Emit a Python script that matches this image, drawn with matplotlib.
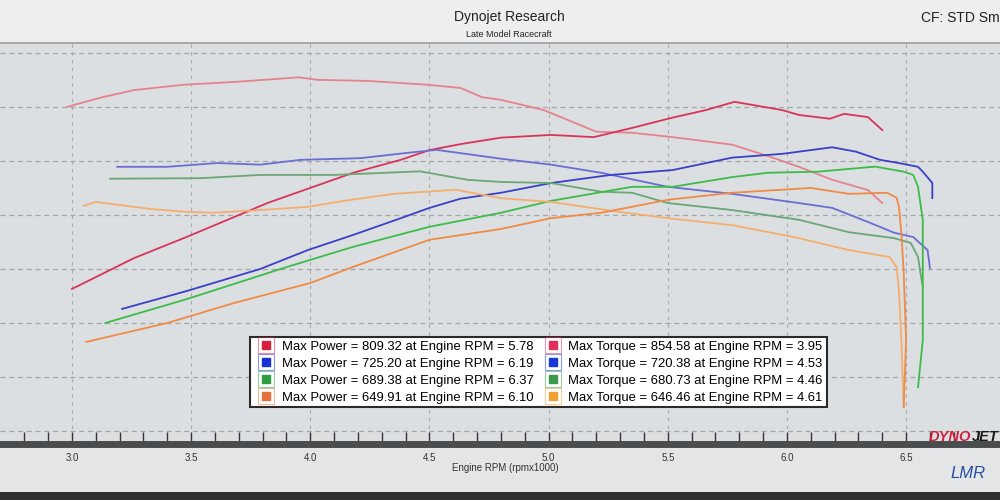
import matplotlib.pyplot as plt
from matplotlib.lines import Line2D
from matplotlib.patches import Rectangle
from matplotlib.legend_handler import HandlerTuple

plt.rcParams['font.family'] = ['Liberation Sans', 'DejaVu Sans']

# --- data (rpm x1000, power / torque) ---
red_hp_rpm = [3.00, 3.26, 3.48, 3.68, 3.82, 4.00, 4.18, 4.38, 4.50, 4.63, 4.80, 5.01,
              5.19, 5.35, 5.52, 5.66, 5.78, 5.98, 6.05, 6.18, 6.24, 6.34, 6.40]
red_hp = [463, 520, 559, 596, 622, 650, 678, 702, 720, 731, 743, 748,
          744, 761, 780, 794, 809.3, 794, 785, 778, 787, 781, 757]
red_tq_rpm = [2.98, 3.12, 3.26, 3.47, 3.68, 3.95, 4.03, 4.24, 4.49, 4.63, 4.72,
              4.80, 4.98, 5.20, 5.35, 5.52, 5.77, 5.92, 6.05, 6.19, 6.34, 6.40]
red_tq = [800, 817, 831, 841, 846, 854.6, 850, 848, 841, 835, 818,
          813, 794, 754, 752, 744, 730, 709, 689, 665, 646, 622]

blue_hp_rpm = [3.21, 3.48, 3.79, 3.99, 4.18, 4.38, 4.50, 4.63, 4.80, 5.01, 5.26,
               5.52, 5.77, 5.98, 6.19, 6.29, 6.39, 6.47, 6.55, 6.57, 6.61, 6.61]
blue_hp = [426, 459, 500, 535, 563, 594, 613, 630, 641, 659, 674,
           683, 706, 713, 725.2, 717, 702, 696, 689, 680, 659, 631]
blue_tq_rpm = [3.19, 3.40, 3.61, 3.79, 3.96, 4.21, 4.41, 4.53, 4.80, 5.01,
               5.22, 5.50, 5.77, 6.05, 6.19, 6.34, 6.45, 6.53, 6.59, 6.60]
blue_tq = [689, 689, 696, 693, 702, 705, 715, 720.4, 704, 693,
           678, 652, 639, 622, 613, 587, 567, 559, 535, 502]

green_hp_rpm = [3.14, 3.48, 3.89, 4.18, 4.50, 4.80, 5.01, 5.35, 5.52, 5.77,
                5.92, 6.13, 6.37, 6.49, 6.53, 6.55, 6.57, 6.57, 6.57, 6.55]
green_hp = [400, 444, 502, 541, 578, 604, 626, 652, 652, 670,
            678, 680, 689.4, 680, 674, 652, 591, 493, 368, 281]
green_tq_rpm = [3.16, 3.54, 3.79, 4.10, 4.46, 4.66, 4.80, 5.01, 5.22, 5.35,
                5.50, 5.77, 6.05, 6.26, 6.45, 6.52, 6.55, 6.56, 6.57]
green_tq = [667, 668, 674, 674, 680.7, 665, 661, 659, 643, 641,
            622, 609, 591, 568, 557, 548, 522, 493, 467]

orange_hp_rpm = [3.06, 3.40, 3.68, 4.00, 4.18, 4.50, 4.80, 5.01, 5.22, 5.35, 5.50,
                 5.77, 6.10, 6.26, 6.42, 6.46, 6.47, 6.48, 6.49, 6.50, 6.49]
orange_hp = [365, 400, 437, 474, 504, 554, 574, 594, 604, 615, 628,
             641, 649.9, 639, 641, 632, 615, 567, 493, 368, 244]
orange_tq_rpm = [3.05, 3.10, 3.33, 3.47, 3.59, 3.79, 3.99, 4.17, 4.35, 4.61, 4.80,
                 5.01, 5.29, 5.50, 5.77, 6.03, 6.26, 6.43, 6.46, 6.47, 6.48, 6.49]
orange_tq = [617, 624, 611, 606, 604, 609, 615, 628, 639, 646.5, 631,
             624, 606, 594, 581, 559, 535, 522, 504, 461, 368, 244]

max_power = [809.32, 725.20, 689.38, 649.91]
max_power_rpm = [5.78, 6.19, 6.37, 6.10]
max_torque = [854.58, 720.38, 680.73, 646.46]
max_torque_rpm = [3.95, 4.53, 4.46, 4.61]

x_ticks = [3.0, 3.5, 4.0, 4.5, 5.0, 5.5, 6.0, 6.5]
y_grid = [200, 300, 400, 500, 600, 700, 800, 900]

power_colors = ['#d8345a', '#3a40c6', '#3cbc48', '#f08a44']
torque_colors = ['#e5828e', '#6a6ed2', '#6aa676', '#f4ae6c']
swatch_power = ['#d81f3f', '#1a30d2', '#2f9e40', '#e8703a']
swatch_torque = ['#e03058', '#1838d8', '#3a9a4a', '#f0a030']

runs = [
    (red_hp_rpm, red_hp, red_tq_rpm, red_tq),
    (blue_hp_rpm, blue_hp, blue_tq_rpm, blue_tq),
    (green_hp_rpm, green_hp, green_tq_rpm, green_tq),
    (orange_hp_rpm, orange_hp, orange_tq_rpm, orange_tq),
]

fig = plt.figure(figsize=(10, 5), dpi=100)
fig.patch.set_facecolor('#e3e5e7')

# header strip
fig.add_artist(Rectangle((0, 1 - 43 / 500), 1, 43 / 500, transform=fig.transFigure,
                         facecolor='#eceef0', edgecolor='none', zorder=0))
fig.add_artist(Line2D([0, 1], [1 - 43 / 500] * 2, transform=fig.transFigure,
                      color='#9a9c9e', lw=1.2))
fig.text(0.509, 1 - 17 / 500, 'Dynojet Research', ha='center', va='center',
         fontsize=10, color='#222222')
fig.text(0.509, 1 - 34 / 500, 'Late Model Racecraft', ha='center', va='center',
         fontsize=6.5, color='#222222')
fig.text(0.921, 1 - 18 / 500, 'CF: STD Sm', ha='left', va='center',
         fontsize=10, color='#222222')

ax = fig.add_axes([0, 0.113, 1, 0.803])
ax.set_facecolor('#dcdfe2')
ax.set_xlim(2.698, 6.894)
ax.set_ylim(177, 920)

for x in x_ticks:
    ax.axvline(x, color='#a8aaac', lw=0.8, ls=(0, (3, 4)), zorder=1)
for y in y_grid:
    ax.axhline(y, color='#a4a6a8', lw=0.9, ls=(0, (4, 3)), zorder=1)

for i, (hp_x, hp_y, tq_x, tq_y) in enumerate(runs):
    ax.plot(tq_x, tq_y, color=torque_colors[i], lw=1.3, zorder=3)
    ax.plot(hp_x, hp_y, color=power_colors[i], lw=1.3, zorder=3)

for side in ['top', 'left', 'right']:
    ax.spines[side].set_visible(False)
ax.spines['bottom'].set_linewidth(5)
ax.spines['bottom'].set_color('#4a4c4e')

ax.set_xticks(x_ticks)
ax.set_xticklabels([f'{x:.1f}' for x in x_ticks])
ax.set_xticks([x / 10 for x in range(28, 69)], minor=True)
ax.set_yticks([])
ax.tick_params(axis='x', which='both', direction='in', length=9, width=1,
               color='#333333', labelsize=7, pad=7, labelcolor='#333333')

fig.text(0.505, 1 - 468 / 500, 'Engine RPM (rpmx1000)', ha='center', va='center',
         fontsize=7, color='#333333')

# legend with boxed swatches
handles = []
labels = []
for i in range(4):
    outer = Line2D([], [], ls='none', marker='s', markersize=12, mfc='none',
                   mec=swatch_power[i], mew=0.8, alpha=0.5)
    inner = Line2D([], [], ls='none', marker='s', markersize=6, color=swatch_power[i])
    handles.append((outer, inner))
    labels.append(f'Max Power = {max_power[i]:.2f} at Engine RPM = {max_power_rpm[i]:.2f}')
for i in range(4):
    outer = Line2D([], [], ls='none', marker='s', markersize=12, mfc='none',
                   mec=swatch_torque[i], mew=0.8, alpha=0.5)
    inner = Line2D([], [], ls='none', marker='s', markersize=6, color=swatch_torque[i])
    handles.append((outer, inner))
    labels.append(f'Max Torque = {max_torque[i]:.2f} at Engine RPM = {max_torque_rpm[i]:.2f}')

leg = ax.legend(handles, labels, handler_map={tuple: HandlerTuple(ndivide=1, pad=0)},
                ncol=2, loc='upper left', bbox_to_anchor=(0.25, 1 - 337 / 500),
                bbox_transform=fig.transFigure, borderaxespad=0, fontsize=9.4,
                frameon=True, fancybox=False, framealpha=1, edgecolor='#2a2a2a',
                facecolor='white', handlelength=1.9, handletextpad=0.25,
                columnspacing=0.5, labelspacing=0.36, borderpad=0.3)
leg.get_frame().set_linewidth(1.5)
leg.set_zorder(5)

# logos
fig.text(0.929, 1 - 437 / 500, 'DYNO', ha='left', va='center', fontsize=10.5,
         fontweight='heavy', fontstyle='italic', color='#d0203c')
fig.text(0.972, 1 - 437 / 500, 'JET', ha='left', va='center', fontsize=10.5,
         fontweight='heavy', fontstyle='italic', color='#1a1a1a')
fig.text(0.968, 1 - 474 / 500, 'LMR', ha='center', va='center', fontsize=12,
         fontstyle='italic', color='#2a4fa0')
fig.add_artist(Rectangle((0, 0), 1, 8 / 500, transform=fig.transFigure,
                         facecolor='#2e2f30', edgecolor='none'))

plt.savefig('out.png', dpi=100, facecolor=fig.get_facecolor())
